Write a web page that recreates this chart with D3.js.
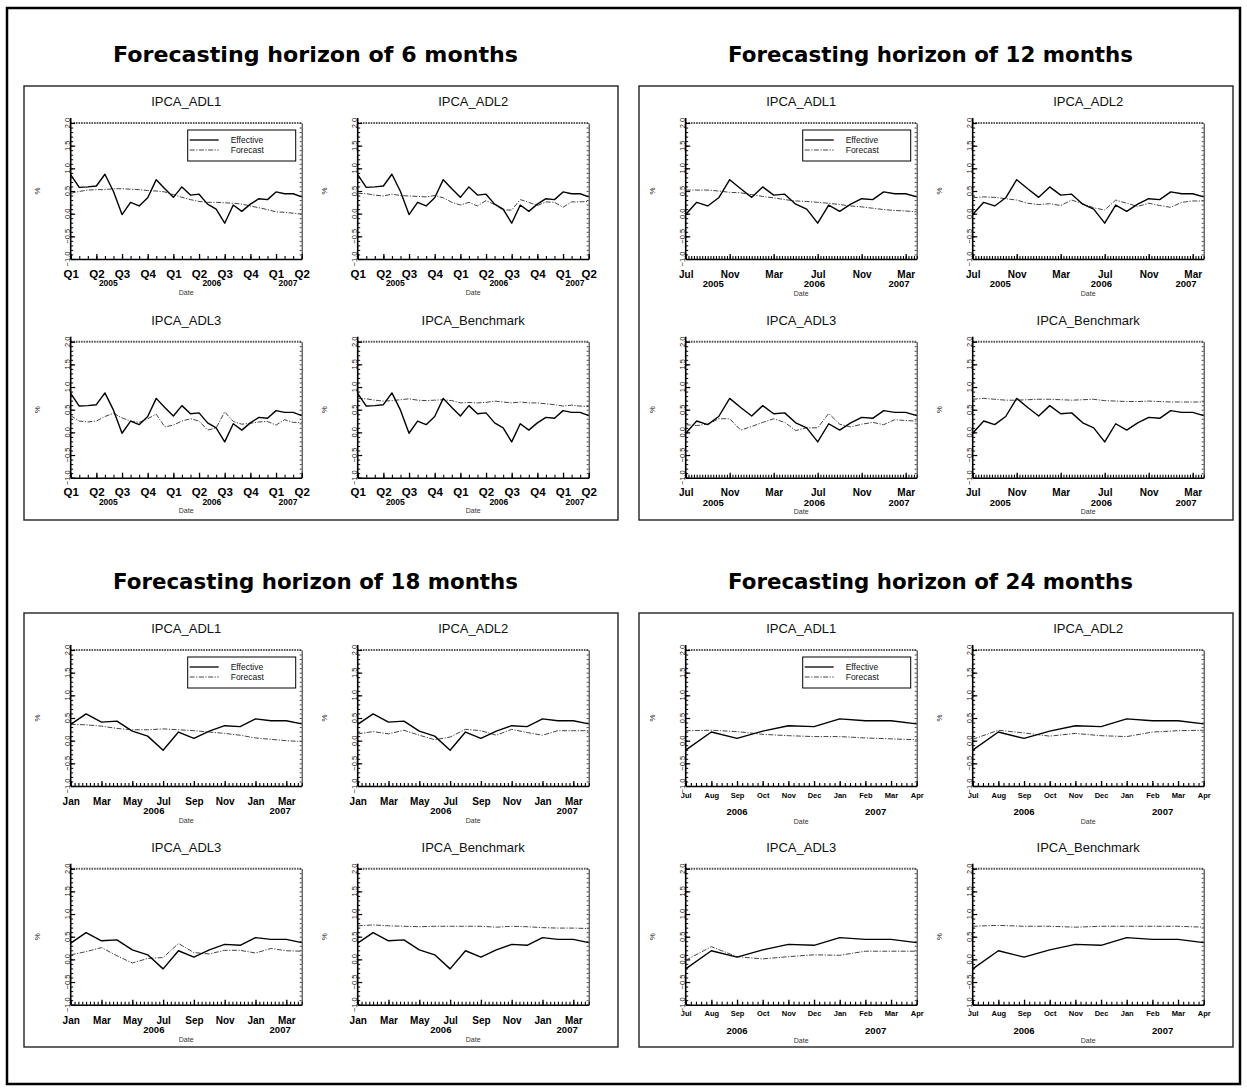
<!DOCTYPE html>
<html>
<head>
<meta charset="utf-8">
<script src="https://cdn.jsdelivr.net/npm/d3@7"></script>
<style>
  body { margin: 0; background: #fff; }
  svg { display: block; }
</style>
</head>
<body>
<svg id="chart" width="1247" height="1091"></svg>
<script>
// ---------------- Data: monthly IPCA inflation (%), effective vs. forecast ----------------
const modelNames = ["IPCA_ADL1", "IPCA_ADL2", "IPCA_ADL3", "IPCA_Benchmark"];

// 6-month horizon (28 months)
const effective6 = [0.86,0.58,0.59,0.61,0.87,0.49,-0.02,0.25,0.17,0.35,0.75,0.55,0.36,0.59,0.41,0.43,0.21,0.10,-0.21,0.19,0.05,0.21,0.33,0.31,0.48,0.44,0.44,0.37];
const forecast6Adl1 = [0.45,0.49,0.52,0.53,0.53,0.55,0.55,0.54,0.53,0.51,0.50,0.48,0.42,0.36,0.31,0.27,0.25,0.25,0.24,0.23,0.21,0.17,0.13,0.09,0.04,0.03,0.01,-0.01];
const forecast6Adl2 = [0.45,0.44,0.41,0.39,0.43,0.40,0.39,0.38,0.37,0.40,0.35,0.25,0.19,0.25,0.17,0.29,0.20,0.08,0.08,0.31,0.25,0.18,0.26,0.25,0.14,0.26,0.26,0.27];
const forecast6Adl3 = [0.37,0.25,0.23,0.25,0.35,0.42,0.32,0.25,0.22,0.30,0.40,0.12,0.16,0.25,0.30,0.25,0.05,0.10,0.45,0.24,0.18,0.20,0.23,0.24,0.16,0.28,0.22,0.22];
const forecast6Bench = [0.75,0.74,0.71,0.69,0.70,0.72,0.74,0.71,0.70,0.71,0.72,0.70,0.65,0.66,0.65,0.66,0.69,0.67,0.65,0.67,0.65,0.65,0.63,0.61,0.58,0.60,0.58,0.57];
const ticks6 = ["Q1","Q2","Q3","Q4","Q1","Q2","Q3","Q4","Q1","Q2"];
const years6 = ["2005","2006","2007"];
const yearAt6 = [4.4, 16.5, 25.4];

// 12-month horizon (22 months)
const effective12 = [-0.02,0.25,0.17,0.35,0.75,0.55,0.36,0.59,0.41,0.43,0.21,0.10,-0.21,0.19,0.05,0.21,0.33,0.31,0.48,0.44,0.44,0.37];
const forecast12Adl1 = [0.52,0.52,0.52,0.50,0.47,0.46,0.42,0.38,0.35,0.31,0.28,0.27,0.25,0.23,0.20,0.17,0.15,0.12,0.09,0.07,0.06,0.04];
const forecast12Adl2 = [0.35,0.37,0.36,0.33,0.30,0.23,0.20,0.22,0.18,0.30,0.22,0.13,0.08,0.30,0.23,0.16,0.23,0.18,0.14,0.25,0.28,0.28];
const forecast12Adl3 = [0.17,0.15,0.18,0.30,0.30,0.05,0.13,0.22,0.30,0.22,0.04,0.10,0.10,0.42,0.18,0.12,0.18,0.22,0.17,0.28,0.26,0.25];
const forecast12Bench = [0.73,0.75,0.73,0.71,0.71,0.72,0.73,0.73,0.72,0.71,0.72,0.73,0.70,0.69,0.68,0.68,0.69,0.68,0.67,0.67,0.67,0.67];
const ticks12 = ["Jul","Nov","Mar","Jul","Nov","Mar"];
const years12 = ["2005","2006","2007"];
const yearAt12 = [2.5, 11.7, 19.4];

// 18-month horizon (16 months)
const effective18 = [0.36,0.59,0.41,0.43,0.21,0.10,-0.21,0.19,0.05,0.21,0.33,0.31,0.48,0.44,0.44,0.37];
const forecast18Adl1 = [0.36,0.35,0.32,0.27,0.24,0.24,0.26,0.24,0.22,0.19,0.16,0.12,0.06,0.03,0.00,-0.02];
const forecast18Adl2 = [0.15,0.20,0.15,0.23,0.12,0.02,0.08,0.25,0.22,0.12,0.25,0.18,0.12,0.22,0.22,0.22];
const forecast18Adl3 = [0.10,0.17,0.26,0.08,-0.08,0.02,0.04,0.35,0.15,0.12,0.20,0.20,0.14,0.24,0.19,0.18];
const forecast18Bench = [0.74,0.76,0.74,0.73,0.72,0.73,0.73,0.73,0.73,0.71,0.73,0.72,0.70,0.69,0.69,0.68];
const ticks18 = ["Jan","Mar","May","Jul","Sep","Nov","Jan","Mar"];
const years18 = ["2006","2007"];
const yearAt18 = [5.4, 13.6];

// 24-month horizon (10 months)
const effective24 = [-0.21,0.19,0.05,0.21,0.33,0.31,0.48,0.44,0.44,0.37];
const forecast24Adl1 = [0.22,0.23,0.20,0.14,0.11,0.09,0.09,0.06,0.04,0.02];
const forecast24Adl2 = [0.03,0.23,0.17,0.10,0.16,0.11,0.09,0.19,0.22,0.23];
const forecast24Adl3 = [-0.02,0.28,0.06,0.01,0.06,0.10,0.09,0.18,0.18,0.18];
const forecast24Bench = [0.73,0.75,0.73,0.73,0.71,0.73,0.73,0.73,0.73,0.71];
const ticks24 = ["Jul","Aug","Sep","Oct","Nov","Dec","Jan","Feb","Mar","Apr"];
const years24 = ["2006","2007"];
const yearAt24 = [2.0, 7.4];

const yTicks = [-1.0, -0.5, 0.0, 0.5, 1.0, 1.5, 2.0];

// ---------------- Layout ----------------
const horizons = [
  { title: "Forecasting horizon of 6 months", ox: 0, oy: 0, effective: effective6,
    forecasts: [forecast6Adl1, forecast6Adl2, forecast6Adl3, forecast6Bench],
    ticks: ticks6, tickEvery: 3, minorStep: 1, years: years6, yearAt: yearAt6,
    tickFont: 11.5, tickDy: 18.5, yearFont: 8.5, yearDy: 27, dateDy: 35.5 },
  { title: "Forecasting horizon of 12 months", ox: 615, oy: 0, effective: effective12,
    forecasts: [forecast12Adl1, forecast12Adl2, forecast12Adl3, forecast12Bench],
    ticks: ticks12, tickEvery: 4, minorStep: 0.25, years: years12, yearAt: yearAt12,
    tickFont: 10, tickDy: 18.5, yearFont: 9.5, yearDy: 28, dateDy: 36.5 },
  { title: "Forecasting horizon of 18 months", ox: 0, oy: 527, effective: effective18,
    forecasts: [forecast18Adl1, forecast18Adl2, forecast18Adl3, forecast18Bench],
    ticks: ticks18, tickEvery: 2, minorStep: 0.25, years: years18, yearAt: yearAt18,
    tickFont: 10, tickDy: 19, yearFont: 9.5, yearDy: 28, dateDy: 37 },
  { title: "Forecasting horizon of 24 months", ox: 615, oy: 527, effective: effective24,
    forecasts: [forecast24Adl1, forecast24Adl2, forecast24Adl3, forecast24Bench],
    ticks: ticks24, tickEvery: 1, minorStep: 0.2, years: years24, yearAt: yearAt24,
    tickFont: 7.5, tickDy: 11.5, yearFont: 9.5, yearDy: 29, dateDy: 38 }
];

const plotW = 231, plotH = 136;
const cellX = [70.7, 357.7];
const cellY = [123, 341.7];

const svg = d3.select("#chart");
const FONT = "'Liberation Sans', Arial, sans-serif";

// outer frame
svg.append("rect").attr("x", 7).attr("y", 8).attr("width", 1233).attr("height", 1076)
  .attr("fill", "none").attr("stroke", "#000").attr("stroke-width", 2.5);

horizons.forEach(h => {
  const g = svg.append("g").attr("transform", `translate(${h.ox},${h.oy})`);

  // heading
  g.append("text").attr("x", 315.5).attr("y", 61.5).attr("text-anchor", "middle")
    .attr("font-family", "'DejaVu Sans', sans-serif").attr("font-weight", "bold")
    .attr("font-size", 21).attr("textLength", 405).attr("lengthAdjust", "spacingAndGlyphs")
    .attr("fill", "#000").text(h.title);

  // panel box
  g.append("rect").attr("x", 24).attr("y", 86).attr("width", 594).attr("height", 434)
    .attr("fill", "none").attr("stroke", "#222").attr("stroke-width", 1.4);

  h.forecasts.forEach((fc, k) => {
    const px = cellX[k % 2], py = cellY[Math.floor(k / 2)];
    const n = h.effective.length;
    const x = d3.scaleLinear().domain([0, n - 1]).range([px, px + plotW]);
    const y = d3.scaleLinear().domain([-1, 2]).range([py + plotH, py]);
    const sp = g.append("g");

    // subplot title
    sp.append("text").attr("x", px + plotW / 2).attr("y", py - 17).attr("text-anchor", "middle")
      .attr("font-family", FONT).attr("font-size", 13).attr("fill", "#111").text(modelNames[k]);

    // top edge (dotted frame)
    sp.append("line").attr("x1", px).attr("x2", px + plotW).attr("y1", py).attr("y2", py)
      .attr("stroke", "#555").attr("stroke-width", 2).attr("stroke-dasharray", "1.6,1");

    // right edge with inward ticks
    sp.append("g").attr("transform", `translate(${px + plotW},0)`)
      .call(d3.axisRight(y).tickValues(d3.range(-1, 2.001, 0.1)).tickSizeInner(-2).tickSizeOuter(0).tickFormat(""))
      .call(a => a.select(".domain").attr("stroke", "#222").attr("stroke-width", 1))
      .call(a => a.selectAll(".tick line").attr("stroke", "#444"));

    // left axis: minor + major inward ticks
    sp.append("g").attr("transform", `translate(${px},0)`)
      .call(d3.axisLeft(y).tickValues(d3.range(-1, 2.001, 0.1)).tickSizeInner(-2.5).tickSizeOuter(0).tickFormat(""))
      .call(a => a.select(".domain").remove())
      .call(a => a.selectAll(".tick line").attr("stroke", "#000"));
    sp.append("g").attr("transform", `translate(${px},0)`)
      .call(d3.axisLeft(y).tickValues(yTicks).tickSizeInner(-4.5).tickSizeOuter(0).tickFormat(""))
      .call(a => a.select(".domain").remove())
      .call(a => a.selectAll(".tick line").attr("stroke", "#000").attr("stroke-width", 1.2));
    sp.append("line").attr("x1", px).attr("x2", px).attr("y1", py - 5).attr("y2", py + plotH)
      .attr("stroke", "#000").attr("stroke-width", 1.6);

    // y tick labels (rotated)
    sp.selectAll(".ylab").data(yTicks).join("text")
      .attr("transform", d => `translate(${px - 1},${y(d)}) rotate(-90)`)
      .attr("text-anchor", "middle").attr("font-family", FONT).attr("font-size", 7.5)
      .attr("fill", "#111").text(d => d3.format(".1f")(d));

    // y axis title
    sp.append("text").attr("transform", `translate(${px - 31},${py + plotH / 2}) rotate(-90)`)
      .attr("text-anchor", "middle").attr("font-family", FONT).attr("font-size", 8)
      .attr("fill", "#222").text("%");

    // bottom axis: minor ticks
    const minorVals = d3.range(0, n - 1 + 1e-9, h.minorStep);
    sp.append("g").attr("transform", `translate(0,${py + plotH})`)
      .call(d3.axisBottom(x).tickValues(minorVals).tickSizeInner(-3).tickSizeOuter(0).tickFormat(""))
      .call(a => a.select(".domain").remove())
      .call(a => a.selectAll(".tick line").attr("stroke", "#000").attr("stroke-width", 1.1));
    // bottom axis: major ticks with labels
    const majorVals = h.ticks.map((t, i) => i * h.tickEvery);
    sp.append("g").attr("transform", `translate(0,${py + plotH})`)
      .call(d3.axisBottom(x).tickValues(majorVals).tickSizeInner(-5).tickSizeOuter(0)
        .tickFormat((d, i) => h.ticks[i]))
      .call(a => a.select(".domain").attr("stroke", "#000").attr("stroke-width", 1.6))
      .call(a => a.selectAll(".tick line").attr("stroke", "#000").attr("stroke-width", 1.3))
      .call(a => a.selectAll(".tick text").attr("y", h.tickDy).attr("dy", 0)
        .attr("font-family", FONT).attr("font-weight", "bold").attr("font-size", h.tickFont).attr("fill", "#000"));

    // year labels
    sp.selectAll(".yr").data(h.years).join("text")
      .attr("x", (d, i) => x(h.yearAt[i])).attr("y", py + plotH + h.yearDy)
      .attr("text-anchor", "middle").attr("font-family", FONT).attr("font-weight", "bold")
      .attr("font-size", h.yearFont).attr("fill", "#000").text(d => d);

    // x axis title
    sp.append("text").attr("x", px + plotW / 2).attr("y", py + plotH + h.dateDy)
      .attr("text-anchor", "middle").attr("font-family", FONT).attr("font-size", 7)
      .attr("fill", "#333").text("Date");

    // series
    const line = d3.line().x((d, i) => x(i)).y(d => y(d));
    sp.append("path").datum(fc).attr("d", line).attr("fill", "none")
      .attr("stroke", "#444").attr("stroke-width", 1).attr("stroke-dasharray", "5,1.5,1.2,1.5");
    sp.append("path").datum(h.effective).attr("d", line).attr("fill", "none")
      .attr("stroke", "#000").attr("stroke-width", 1.4).attr("stroke-linejoin", "round");

    // legend on the first subplot of each horizon
    if (k === 0) {
      const lx = px + plotW - 114, ly = py + 7;
      const lg = sp.append("g");
      lg.append("rect").attr("x", lx).attr("y", ly).attr("width", 108).attr("height", 31)
        .attr("fill", "#fff").attr("stroke", "#000").attr("stroke-width", 1);
      const items = [["Effective", null, "#000"], ["Forecast", "5,1.5,1.2,1.5", "#444"]];
      items.forEach((it, j) => {
        lg.append("line").attr("x1", lx + 2).attr("x2", lx + 31)
          .attr("y1", ly + 10 + j * 10).attr("y2", ly + 10 + j * 10)
          .attr("stroke", it[2]).attr("stroke-width", it[1] ? 1 : 1.3)
          .attr("stroke-dasharray", it[1]);
        lg.append("text").attr("x", lx + 43).attr("y", ly + 13 + j * 10)
          .attr("font-family", FONT).attr("font-size", 8.5).attr("fill", "#111").text(it[0]);
      });
    }
  });
});
</script>
</body>
</html>
